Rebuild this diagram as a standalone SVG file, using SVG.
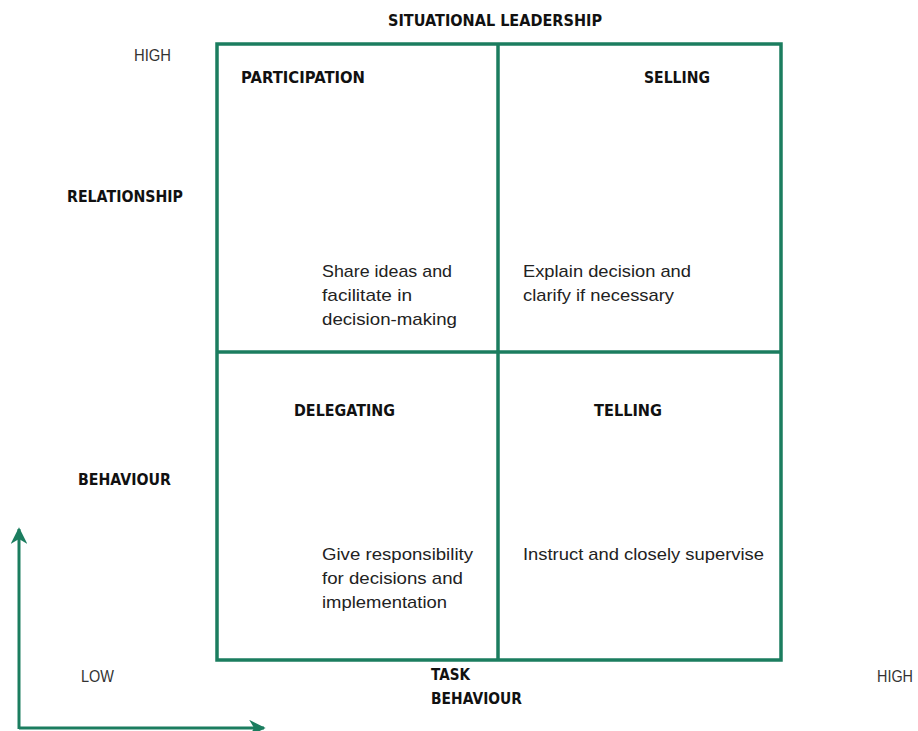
<svg xmlns="http://www.w3.org/2000/svg" width="918" height="731" viewBox="0 0 918 731">
  <style>
    .frame { fill: none; stroke: #1b7d5f; stroke-width: 3.5; }
    .axis { fill: none; stroke: #1b7d5f; stroke-width: 3; }
    .head { font-family: "DejaVu Sans", "Liberation Sans", sans-serif; font-weight: bold; font-size: 15px; fill: #111; }
    .body { font-family: "Liberation Sans", Arial, sans-serif; font-size: 17px; fill: #222; }
    .scale { font-family: "Liberation Sans", Arial, sans-serif; font-size: 17px; fill: #333; }
  </style>
  <defs>
    <marker id="arrow" viewBox="0 0 10 10" refX="9" refY="5" markerWidth="5.5" markerHeight="5.5" orient="auto" markerUnits="strokeWidth">
      <path d="M0,0 L10,5 L0,10 L3,5 Z" fill="#1b7d5f"/>
    </marker>
  </defs>

  <rect width="918" height="731" fill="#fff"/>

  <text class="head" x="388" y="26" textLength="214" lengthAdjust="spacingAndGlyphs">SITUATIONAL  LEADERSHIP</text>

  <!-- quadrant grid -->
  <g id="grid">
    <rect class="frame" x="217" y="44" width="564" height="616"/>
    <line class="frame" x1="498" y1="44" x2="498" y2="660"/>
    <line class="frame" x1="217" y1="352" x2="781" y2="352"/>
  </g>

  <g id="participation">
    <text class="head" x="241" y="83" textLength="124" lengthAdjust="spacingAndGlyphs">PARTICIPATION</text>
    <text class="body" x="322" y="277" textLength="130" lengthAdjust="spacingAndGlyphs">Share ideas and</text>
    <text class="body" x="322" y="301" textLength="90" lengthAdjust="spacingAndGlyphs">facilitate  in</text>
    <text class="body" x="322" y="325" textLength="135" lengthAdjust="spacingAndGlyphs">decision-making</text>
  </g>

  <g id="selling">
    <text class="head" x="644" y="83" textLength="66" lengthAdjust="spacingAndGlyphs">SELLING</text>
    <text class="body" x="523" y="277" textLength="168" lengthAdjust="spacingAndGlyphs">Explain decision and</text>
    <text class="body" x="523" y="301" textLength="151" lengthAdjust="spacingAndGlyphs">clarify if necessary</text>
  </g>

  <g id="delegating">
    <text class="head" x="294" y="416" textLength="101" lengthAdjust="spacingAndGlyphs">DELEGATING</text>
    <text class="body" x="322" y="560" textLength="151" lengthAdjust="spacingAndGlyphs">Give responsibility</text>
    <text class="body" x="322" y="584" textLength="141" lengthAdjust="spacingAndGlyphs">for decisions and</text>
    <text class="body" x="322" y="608" textLength="125" lengthAdjust="spacingAndGlyphs">implementation</text>
  </g>

  <g id="telling">
    <text class="head" x="594" y="416" textLength="68" lengthAdjust="spacingAndGlyphs">TELLING</text>
    <text class="body" x="523" y="560" textLength="241" lengthAdjust="spacingAndGlyphs">Instruct and closely supervise</text>
  </g>

  <!-- axis labels -->
  <g id="labels">
    <text class="scale" x="134" y="61" textLength="37" lengthAdjust="spacingAndGlyphs">HIGH</text>
    <text class="head" x="67" y="202" textLength="116" lengthAdjust="spacingAndGlyphs">RELATIONSHIP</text>
    <text class="head" x="78" y="485" textLength="93" lengthAdjust="spacingAndGlyphs">BEHAVIOUR</text>
    <text class="scale" x="81" y="682" textLength="33" lengthAdjust="spacingAndGlyphs">LOW</text>
    <text class="head" x="431" y="680" textLength="39" lengthAdjust="spacingAndGlyphs">TASK</text>
    <text class="head" x="431" y="704" textLength="91" lengthAdjust="spacingAndGlyphs">BEHAVIOUR</text>
    <text class="scale" x="877" y="682" textLength="36" lengthAdjust="spacingAndGlyphs">HIGH</text>
  </g>

  <g id="connectors">
    <path class="axis" d="M19,729 L19,529" marker-end="url(#arrow)"/>
    <path class="axis" d="M19,728 L264,728" marker-end="url(#arrow)"/>
  </g>
</svg>
